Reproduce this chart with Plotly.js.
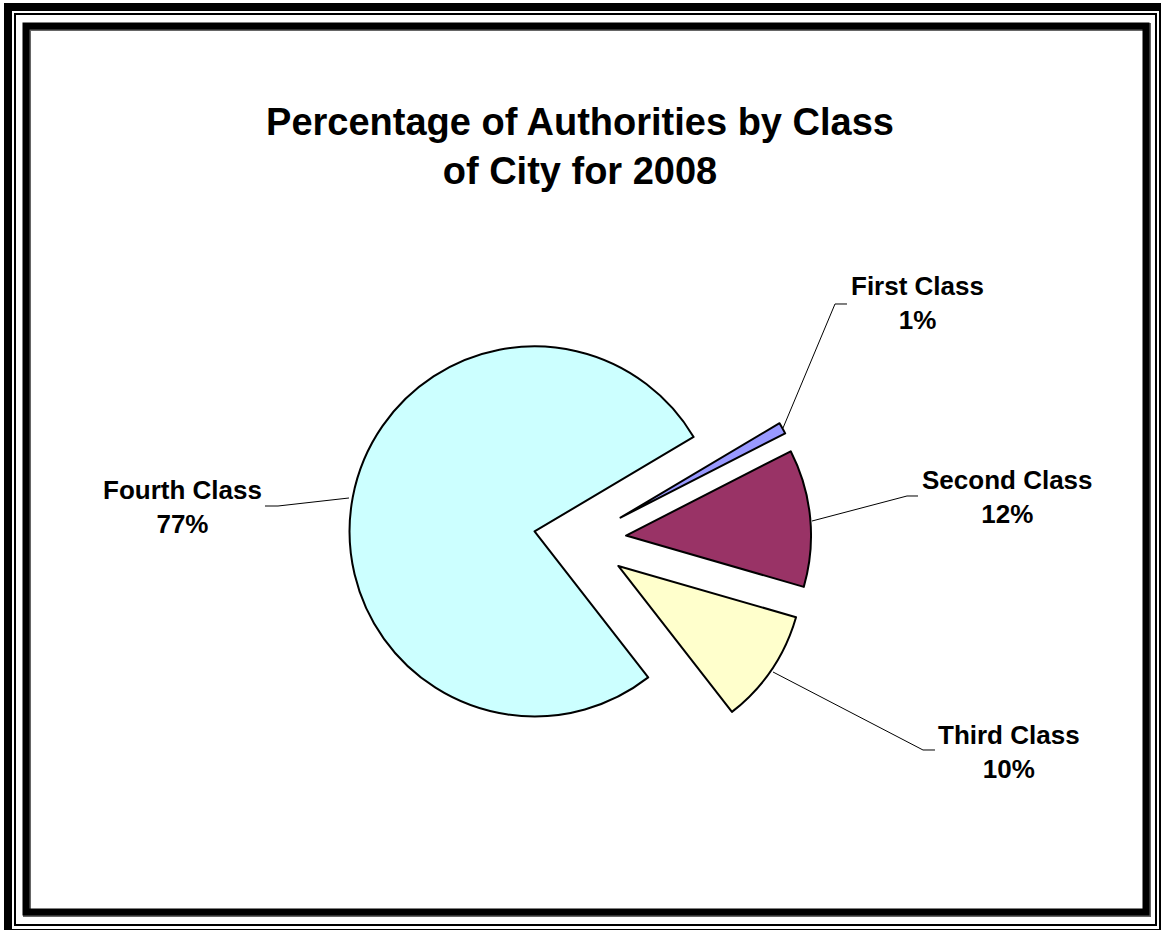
<!DOCTYPE html>
<html>
<head>
<meta charset="utf-8">
<script src="https://cdn.plot.ly/plotly-3.0.1.min.js"></script>
<style>
html,body{margin:0;padding:0;background:#fff;}
#chart{width:1161px;height:930px;}
</style>
</head>
<body>
<div id="chart"></div>
<script>
// ---- data ----
var classLabels = ["First Class", "Second Class", "Third Class", "Fourth Class"];
var classValues = [1, 12, 10, 77];
var sliceColors = ["#9999FF", "#993366", "#FFFFCC", "#CCFFFF"];
var chartTitle = "Percentage of Authorities by Class<br>of City for 2008";

// ---- helpers (pixel -> paper, margins are zero) ----
var W = 1161, H = 930;
function px(x){ return x / W; }
function py(y){ return 1 - y / H; }
function pathPx(points){
  return points.map(function(p, i){
    return (i ? "L" : "M") + px(p[0]).toFixed(5) + "," + py(p[1]).toFixed(5);
  }).join(" ");
}

var total = classValues.reduce(function(a, b){ return a + b; }, 0);
function labelText(i){
  return "<b>" + classLabels[i] + "<br>" + Math.round(classValues[i] / total * 100) + "%</b>";
}

var labelFont = {family: "Liberation Sans, Arial, sans-serif", size: 26, color: "#000"};

// label anchor positions (pixel) and leader lines
var labelPos = [[917, 303], [1007, 497], [1009, 752], [182, 507]];
var leaders = [
  [[783, 428], [835, 304], [847, 304]],
  [[812, 521], [907, 496], [918, 496]],
  [[773, 672], [923, 750], [935, 750]],
  [[349, 498], [278, 506], [265, 506]]
];

var annotations = labelPos.map(function(p, i){
  return {
    xref: "paper", yref: "paper",
    x: px(p[0]), y: py(p[1]),
    xanchor: "center", yanchor: "middle",
    text: labelText(i), showarrow: false,
    font: labelFont, align: "center"
  };
});

var shapes = leaders.map(function(pts){
  return {type: "path", xref: "paper", yref: "paper", path: pathPx(pts),
          line: {color: "#000", width: 1}};
});

// frame
function rectPath(x0, y0, x1, y1){ return pathPx([[x0,y0],[x1,y0],[x1,y1],[x0,y1],[x0,y0]]) + " Z"; }
shapes.push({type:"path", xref:"paper", yref:"paper", path: rectPath(8, 7, 1163, 933), line:{color:"#000", width:8}});
shapes.push({type:"path", xref:"paper", yref:"paper", path: rectPath(15, 14, 1156, 925), line:{color:"#000", width:2}});
shapes.push({type:"path", xref:"paper", yref:"paper", path: rectPath(27, 27, 1147, 913), line:{color:"#666", width:8}});
shapes.push({type:"path", xref:"paper", yref:"paper", path: rectPath(26, 26, 1146, 912), line:{color:"#000", width:7}});

var trace = {
  type: "pie",
  labels: classLabels,
  values: classValues,
  sort: false,
  direction: "clockwise",
  rotation: 59.3,
  pull: [0.25, 0.25, 0.25, 0.25],
  marker: {colors: sliceColors, line: {color: "#000", width: 2}},
  textinfo: "none",
  hoverinfo: "skip",
  domain: {x: [px(348.75), px(811.25)], y: [py(771.25), py(308.75)]},
  showlegend: false
};

var layout = {
  width: W, height: H,
  margin: {l: 0, r: 0, t: 0, b: 0},
  paper_bgcolor: "#fff",
  title: {
    text: "<b>" + chartTitle + "</b>",
    font: {family: "Liberation Sans, Arial, sans-serif", size: 38, color: "#000"},
    x: px(580), xanchor: "center",
    y: py(135), yanchor: "middle", yref: "paper"
  },
  annotations: annotations,
  shapes: shapes,
  showlegend: false
};

Plotly.newPlot("chart", [trace], layout, {staticPlot: true, displayModeBar: false});
</script>
</body>
</html>
